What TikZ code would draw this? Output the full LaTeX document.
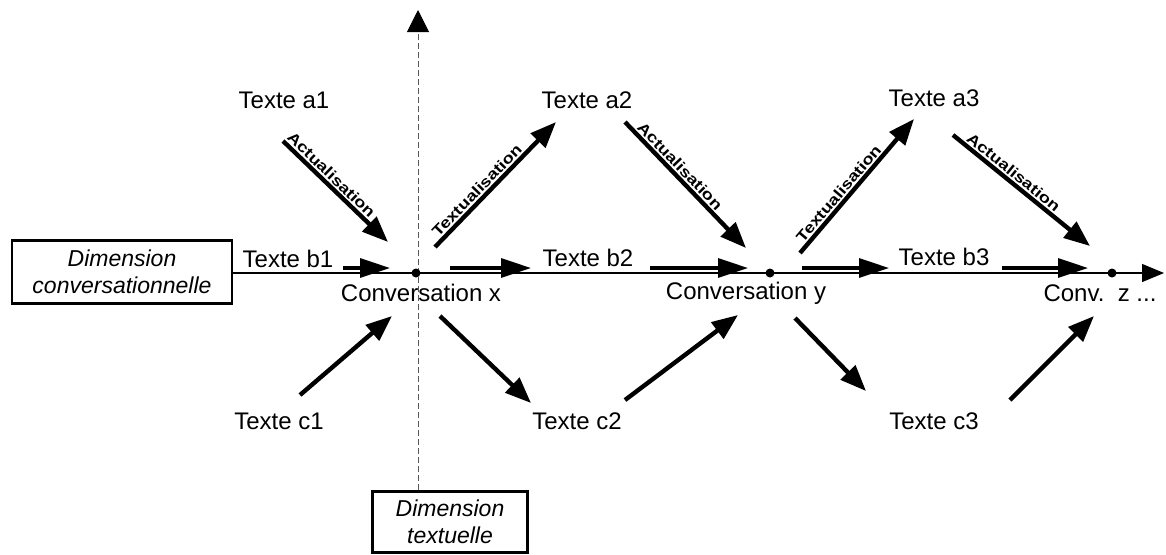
\documentclass[tikz,border=0pt]{standalone}
\usepackage{fontspec}
\setmainfont{Liberation Sans}
\usetikzlibrary{arrows.meta}
\newcommand{\widelab}[1]{\scalebox{1.22}[1]{#1}}
\begin{document}
\begin{tikzpicture}[x=0.5pt,y=-0.5pt,
  txt/.style={font=\fontsize{12}{14}\selectfont, inner sep=0pt},
  dimbox/.style={draw, line width=1.2pt, font=\fontsize{11.5}{13.5}\selectfont\itshape,
    align=center, inner sep=0pt},
  flow/.style={line width=2.2pt, -{Triangle[length=13pt,width=10pt]}},
  axisflow/.style={line width=1.6pt, -{Triangle[length=15pt,width=9.5pt]}},
  lab/.style={font=\fontsize{7.5}{8}\selectfont\bfseries,
    sloped, above, inner sep=0.8pt, pos=0.4},
  dot/.style={circle, fill, inner sep=0pt, minimum size=4.5pt}
]
\useasboundingbox (0,0) rectangle (1166,554);

% the two dimensions
\node[dimbox, minimum width=110pt, minimum height=31.5pt] (dc) at (122,272)
  {Dimension\\conversationnelle};
\node[dimbox, minimum width=77.5pt, minimum height=30.5pt] (dt) at (450,522)
  {Dimension\\textuelle};

% conversational axis (horizontal) and textual axis (vertical)
\coordinate (hend) at (1164,273);
\coordinate (vtop) at (418,10);
\draw[line width=0.6pt, -{Triangle[length=11pt,width=9pt]}] (dc.east |- hend) -- (hend);
\draw[line width=0.5pt, gray!70!black, dash pattern=on 3pt off 1.5pt,
  -{Triangle[length=11pt,width=11pt,color=black]}]
  (dt.north -| vtop) -- (vtop);

% conversations
\node[dot] (cx) at (416,273) {};
\node[dot] (cy) at (770,273) {};
\node[dot] (cz) at (1112,273) {};
\node[txt] (lx) at (421,293) {Conversation x};
\node[txt] (ly) at (746,293) {Conversation y};
\node[txt] (lz) at (1100,293) {Conv.\ \ z ...};

% texts
\node[txt] (a1) at (284,100) {Texte a1};
\node[txt] (a2) at (587,100) {Texte a2};
\node[txt] (a3) at (934,98) {Texte a3};
\node[txt] (b1) at (288,259) {Texte b1};
\node[txt] (b2) at (588,258) {Texte b2};
\node[txt] (b3) at (944,257) {Texte b3};
\node[txt] (c1) at (279,421) {Texte c1};
\node[txt] (c2) at (577,421) {Texte c2};
\node[txt] (c3) at (934,421) {Texte c3};

% arrow ends
\coordinate (a1s) at (283,141);  \coordinate (a1e) at (388,242);
\coordinate (t1s) at (435,247);  \coordinate (t1e) at (556,122);
\coordinate (a2s) at (625,122);  \coordinate (a2e) at (746,248);
\coordinate (t2s) at (800,253);  \coordinate (t2e) at (914,119);
\coordinate (a3s) at (953,135);  \coordinate (a3e) at (1090,246);
\coordinate (c1s) at (300,395);  \coordinate (c1e) at (392,316);
\coordinate (xcs) at (440,316);  \coordinate (xce) at (531,403);
\coordinate (c2s) at (625,400);  \coordinate (c2e) at (738,315);
\coordinate (ycs) at (795,318);  \coordinate (yce) at (866,391);
\coordinate (c3s) at (1010,400); \coordinate (c3e) at (1094,316);
\coordinate (b1s) at (343,268);  \coordinate (b1e) at (390,268);
\coordinate (x2s) at (450,268);  \coordinate (x2e) at (531,268);
\coordinate (b2s) at (650,268);  \coordinate (b2e) at (748,268);
\coordinate (y3s) at (802,268);  \coordinate (y3e) at (889,268);
\coordinate (b3s) at (1002,268); \coordinate (b3e) at (1088,268);

% actualisation / textualisation
\draw[flow] (a1s) -- node[lab] {\widelab{Actualisation}} (a1e);
\draw[flow] (t1s) -- node[lab] {\widelab{Textualisation}} (t1e);
\draw[flow] (a2s) -- node[lab] {\widelab{Actualisation}} (a2e);
\draw[flow] (t2s) -- node[lab] {\widelab{Textualisation}} (t2e);
\draw[flow] (a3s) -- node[lab] {\widelab{Actualisation}} (a3e);

% lower texts
\draw[flow] (c1s) -- (c1e);
\draw[flow] (xcs) -- (xce);
\draw[flow] (c2s) -- (c2e);
\draw[flow] (ycs) -- (yce);
\draw[flow] (c3s) -- (c3e);

% along the conversational axis
\draw[axisflow] (b1s) -- (b1e);
\draw[axisflow] (x2s) -- (x2e);
\draw[axisflow] (b2s) -- (b2e);
\draw[axisflow] (y3s) -- (y3e);
\draw[axisflow] (b3s) -- (b3e);
\end{tikzpicture}
\end{document}
